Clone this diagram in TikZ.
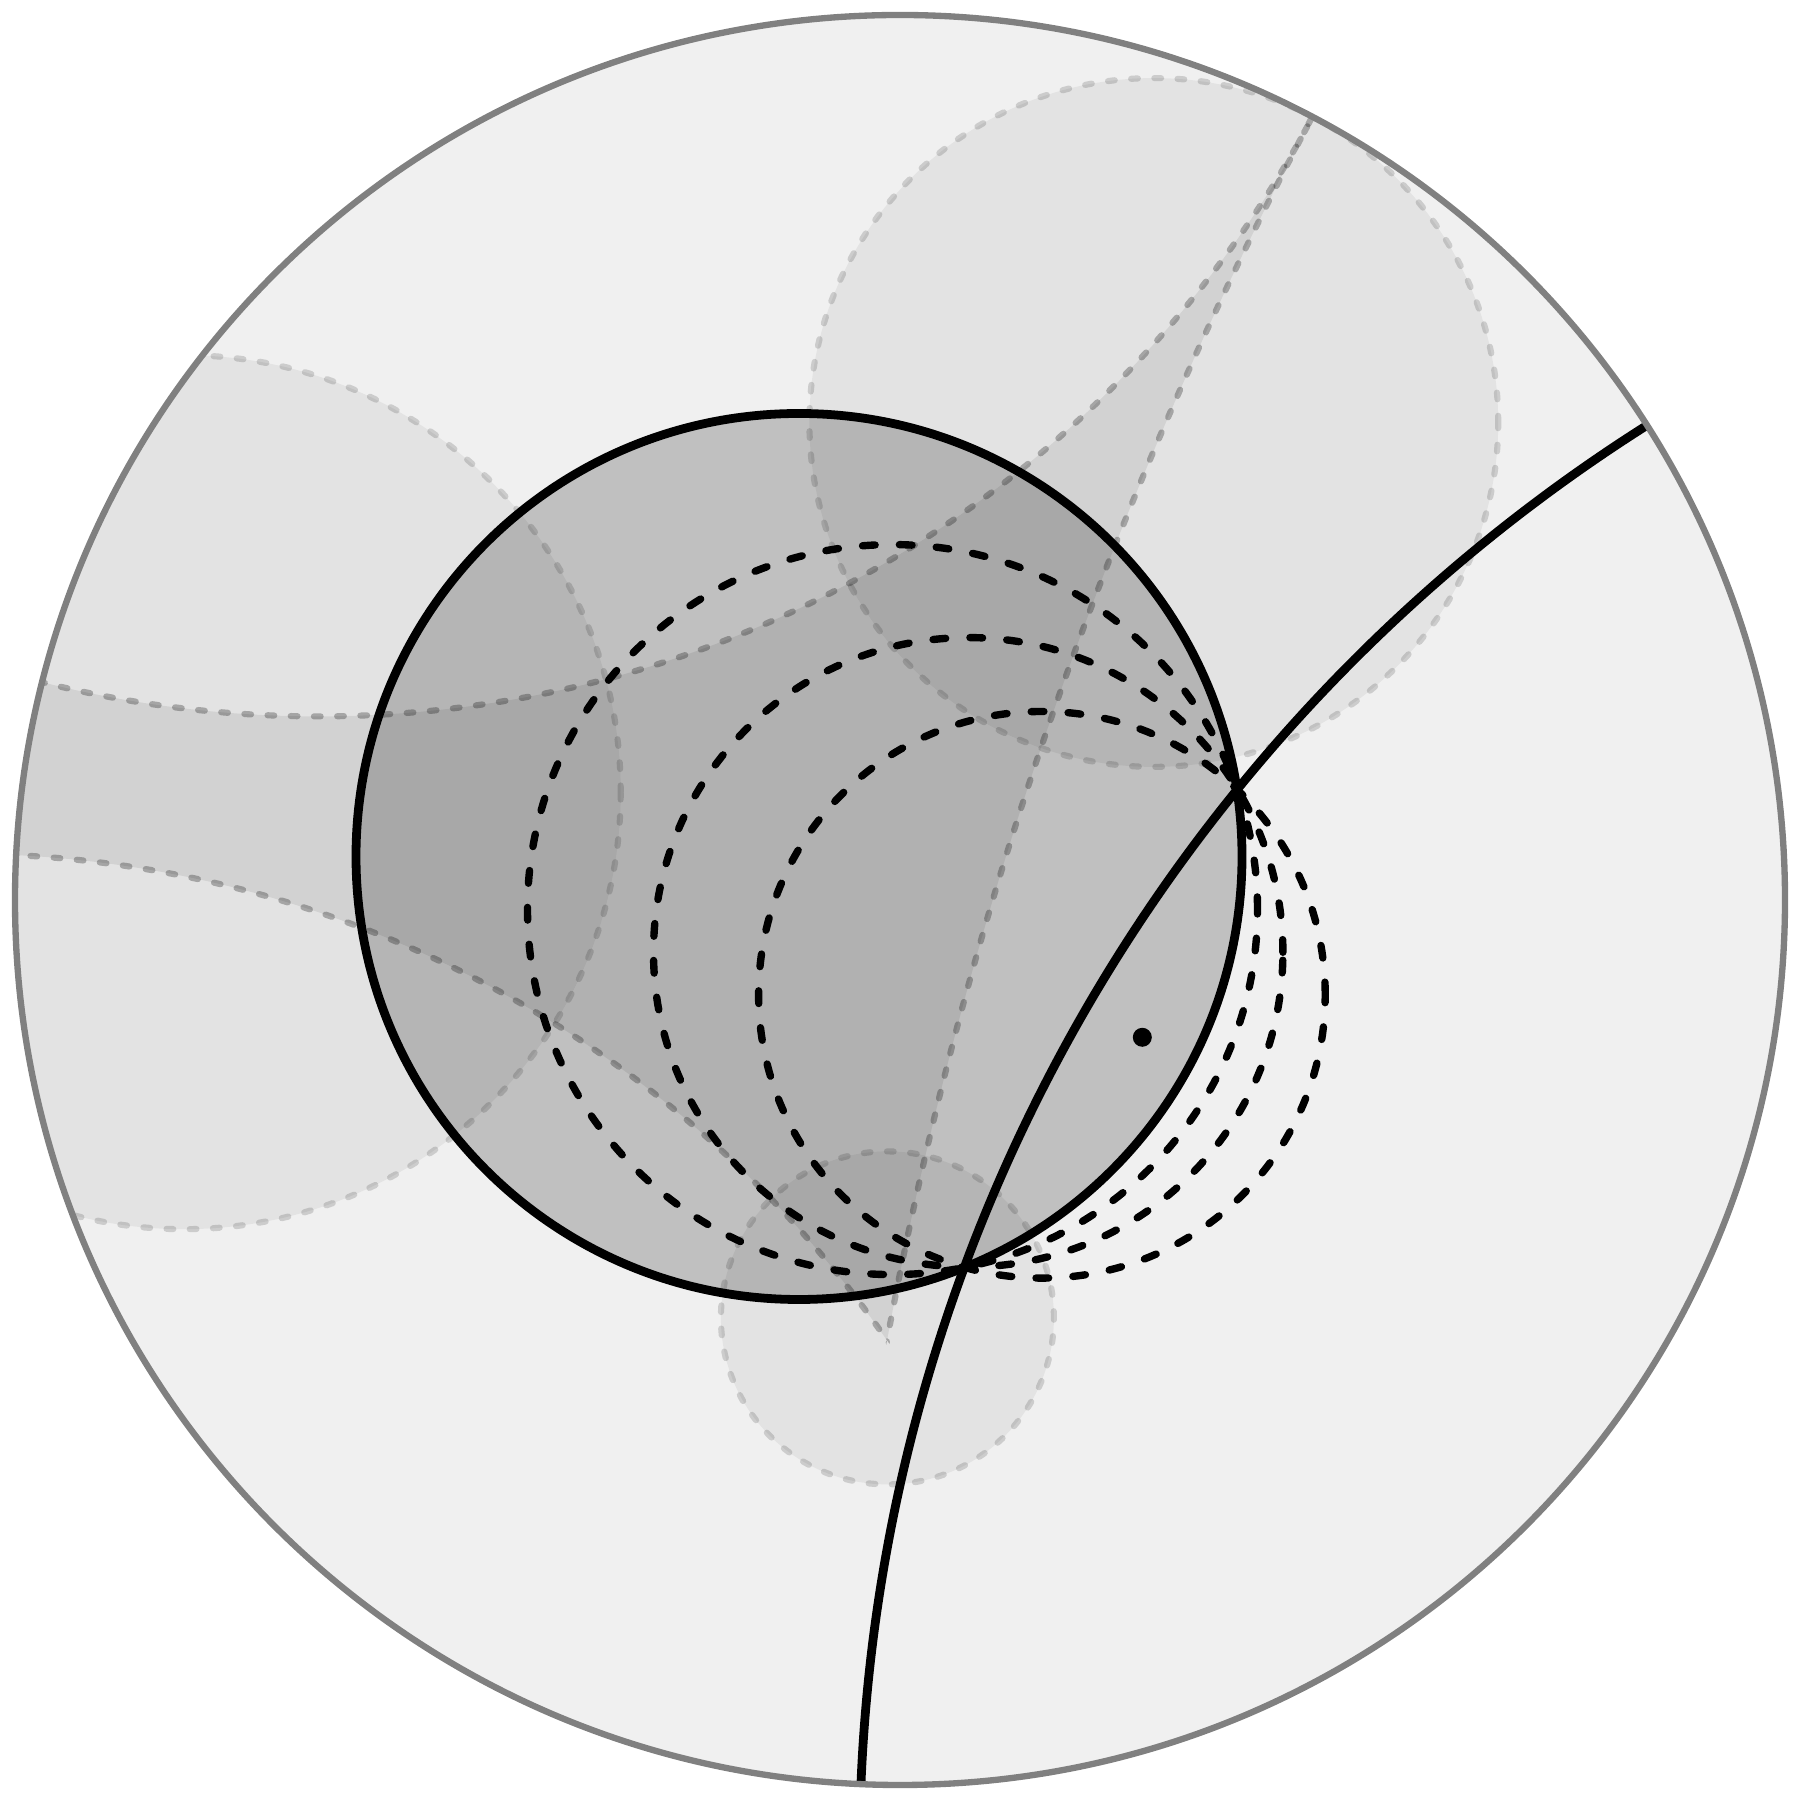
\documentclass[tikz,border=0pt]{standalone}
\begin{document}
\begin{tikzpicture}[x=0.01cm,y=0.01cm,
  diskfill/.style={fill={rgb,255:red,240;green,240;blue,240}},
  hfill/.style={fill=black,fill opacity=0.05},
  polyfill/.style={fill=black,fill opacity=0.075},
  ballfill/.style={fill=black,fill opacity=0.2},
  geoline/.style={draw=black,draw opacity=0.27,line width=1.75pt,dash pattern=on 1.9pt off 4.7pt,line cap=round},
  hcirc/.style={draw=black,draw opacity=0.15,line width=1.75pt,dash pattern=on 1.9pt off 4.7pt,line cap=round},
  blackdash/.style={draw=black,line width=2.1pt,dash pattern=on 3.6pt off 6.9pt,line cap=round},
  solidblack/.style={draw=black,line width=2.5pt},
  rim/.style={draw={rgb,255:red,128;green,128;blue,128},line width=1.8pt}]
\useasboundingbox (0,0) rectangle (1800,1800);
% named points
\coordinate (O) at (900,900);
\coordinate (ballc) at (799,943.5);
\coordinate (trc) at (1153.8,1377.5);
\coordinate (lc) at (183.7,1007.8);
\coordinate (bc) at (887.4,482.1);
\coordinate (ga) at (318.2,2207.3);
\coordinate (gb) at (5130,-329.6);
\coordinate (gc) at (-41.2,-182.1);
\coordinate (gl) at (2550,-54.7);
\coordinate (dA) at (892.5,890.4);
\coordinate (dB) at (968.2,847.7);
\coordinate (dC) at (1041.9,805.2);
\coordinate (dot) at (1142.3,762.7);
% disk
\fill[diskfill] (O) circle[radius=885];
\begin{scope}
  \clip (O) circle[radius=885];
  % hyperbolic circles
  \fill[hfill] (trc) circle[radius=344.4];
  \fill[hfill] (lc) circle[radius=437];
  \fill[hfill] (bc) circle[radius=166.5];
  % polygon
  \begin{scope}[even odd rule]
    \clip (-100,-100) rectangle (1900,1900) (ga) circle[radius=1123.7];
    \begin{scope}[even odd rule]
      \clip (-100,-100) rectangle (1900,1900) (gb) circle[radius=4315];
      \begin{scope}[even odd rule]
        \clip (-100,-100) rectangle (1900,1900) (gc) circle[radius=1128.4];
        \fill[polyfill] (-100,-100) rectangle (1900,1900);
      \end{scope}
    \end{scope}
  \end{scope}
  % ball
  \fill[ballfill] (ballc) circle[radius=443];
  % outlines
  \draw[hcirc] (trc) circle[radius=344.4];
  \draw[hcirc] (lc) circle[radius=437];
  \draw[hcirc] (bc) circle[radius=166.5];
  \draw[geoline] (ga) circle[radius=1123.7];
  \begin{scope}[even odd rule]
    \clip (-100,-100) rectangle (1900,1900) (gc) circle[radius=1128.4];
    \draw[geoline] (gb) circle[radius=4315];
  \end{scope}
  \begin{scope}[even odd rule]
    \clip (-100,-100) rectangle (1900,1900) (gb) circle[radius=4315];
    \draw[geoline] (gc) circle[radius=1128.4];
  \end{scope}
  % black geodesic
  \draw[solidblack] (gl) circle[radius=1690.5];
\end{scope}
\draw[rim] (O) circle[radius=885];
\draw[solidblack] (ballc) circle[radius=443];
\draw[blackdash] (dA) circle[radius=365];
\draw[blackdash] (dB) circle[radius=314.7];
\draw[blackdash] (dC) circle[radius=283.3];
\fill (dot) circle[radius=9.5];
\end{tikzpicture}
\end{document}
